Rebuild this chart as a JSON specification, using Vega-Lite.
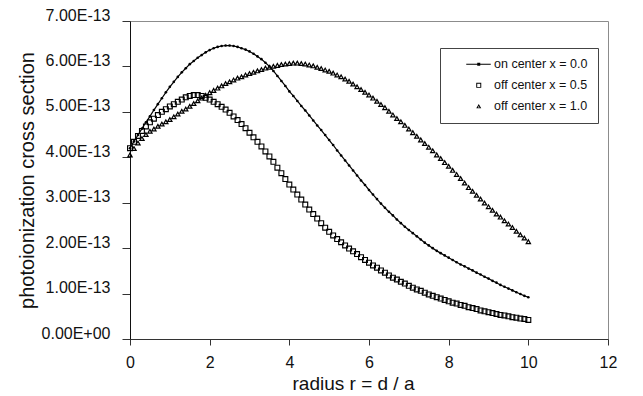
{
"$schema":"https://vega.github.io/schema/vega-lite/v6.json",
"width":478,"height":318,
"autosize":{"type":"none"},
"padding":{"left":130,"top":21,"right":35,"bottom":57},
"background":"white",
"config":{"font":"Liberation Sans","view":{"stroke":"#8c8c8c","strokeWidth":1}},
"datasets":{
"on":[{"r":0,"v":4.20e-13},{"r":0.1,"v":4.35e-13},{"r":0.2,"v":4.49e-13},{"r":0.3,"v":4.63e-13},{"r":0.4,"v":4.77e-13},{"r":0.5,"v":4.90e-13},{"r":0.6,"v":5.04e-13},{"r":0.7,"v":5.17e-13},{"r":0.8,"v":5.30e-13},{"r":0.9,"v":5.43e-13},
{"r":1.0,"v":5.55e-13},{"r":1.1,"v":5.66e-13},{"r":1.2,"v":5.77e-13},{"r":1.3,"v":5.87e-13},{"r":1.4,"v":5.96e-13},{"r":1.5,"v":6.05e-13},{"r":1.6,"v":6.12e-13},{"r":1.7,"v":6.19e-13},{"r":1.8,"v":6.25e-13},{"r":1.9,"v":6.31e-13},
{"r":2.0,"v":6.36e-13},{"r":2.1,"v":6.40e-13},{"r":2.2,"v":6.43e-13},{"r":2.3,"v":6.45e-13},{"r":2.4,"v":6.46e-13},{"r":2.5,"v":6.46e-13},{"r":2.6,"v":6.45e-13},{"r":2.7,"v":6.43e-13},{"r":2.8,"v":6.40e-13},{"r":2.9,"v":6.37e-13},
{"r":3.0,"v":6.33e-13},{"r":3.1,"v":6.28e-13},{"r":3.2,"v":6.22e-13},{"r":3.3,"v":6.16e-13},{"r":3.4,"v":6.08e-13},{"r":3.5,"v":6.00e-13},{"r":3.6,"v":5.90e-13},{"r":3.7,"v":5.79e-13},{"r":3.8,"v":5.68e-13},{"r":3.9,"v":5.57e-13},
{"r":4.0,"v":5.45e-13},{"r":4.1,"v":5.35e-13},{"r":4.2,"v":5.24e-13},{"r":4.3,"v":5.13e-13},{"r":4.4,"v":5.03e-13},{"r":4.5,"v":4.92e-13},{"r":4.6,"v":4.81e-13},{"r":4.7,"v":4.70e-13},{"r":4.8,"v":4.60e-13},{"r":4.9,"v":4.49e-13},
{"r":5.0,"v":4.38e-13},{"r":5.1,"v":4.27e-13},{"r":5.2,"v":4.15e-13},{"r":5.3,"v":4.04e-13},{"r":5.4,"v":3.93e-13},{"r":5.5,"v":3.82e-13},{"r":5.6,"v":3.71e-13},{"r":5.7,"v":3.60e-13},{"r":5.8,"v":3.49e-13},{"r":5.9,"v":3.39e-13},
{"r":6.0,"v":3.28e-13},{"r":6.1,"v":3.18e-13},{"r":6.2,"v":3.08e-13},{"r":6.3,"v":2.98e-13},{"r":6.4,"v":2.89e-13},{"r":6.5,"v":2.80e-13},{"r":6.6,"v":2.72e-13},{"r":6.7,"v":2.63e-13},{"r":6.8,"v":2.55e-13},{"r":6.9,"v":2.47e-13},
{"r":7.0,"v":2.40e-13},{"r":7.1,"v":2.33e-13},{"r":7.2,"v":2.26e-13},{"r":7.3,"v":2.19e-13},{"r":7.4,"v":2.12e-13},{"r":7.5,"v":2.06e-13},{"r":7.6,"v":2.00e-13},{"r":7.7,"v":1.94e-13},{"r":7.8,"v":1.89e-13},{"r":7.9,"v":1.84e-13},
{"r":8.0,"v":1.79e-13},{"r":8.1,"v":1.74e-13},{"r":8.2,"v":1.69e-13},{"r":8.3,"v":1.64e-13},{"r":8.4,"v":1.60e-13},{"r":8.5,"v":1.55e-13},{"r":8.6,"v":1.51e-13},{"r":8.7,"v":1.46e-13},{"r":8.8,"v":1.42e-13},{"r":8.9,"v":1.37e-13},
{"r":9.0,"v":1.33e-13},{"r":9.1,"v":1.28e-13},{"r":9.2,"v":1.24e-13},{"r":9.3,"v":1.19e-13},{"r":9.4,"v":1.15e-13},{"r":9.5,"v":1.11e-13},{"r":9.6,"v":1.07e-13},{"r":9.7,"v":1.03e-13},{"r":9.8,"v":0.99e-13},{"r":9.9,"v":0.95e-13},{"r":10.0,"v":0.92e-13}],
"half":[{"r":0,"v":4.20e-13},{"r":0.1,"v":4.34e-13},{"r":0.2,"v":4.47e-13},{"r":0.3,"v":4.58e-13},{"r":0.4,"v":4.68e-13},{"r":0.5,"v":4.77e-13},{"r":0.6,"v":4.85e-13},{"r":0.7,"v":4.93e-13},{"r":0.8,"v":5.00e-13},{"r":0.9,"v":5.06e-13},
{"r":1.0,"v":5.12e-13},{"r":1.1,"v":5.17e-13},{"r":1.2,"v":5.22e-13},{"r":1.3,"v":5.27e-13},{"r":1.4,"v":5.32e-13},{"r":1.5,"v":5.35e-13},{"r":1.6,"v":5.37e-13},{"r":1.7,"v":5.37e-13},{"r":1.8,"v":5.35e-13},{"r":1.9,"v":5.31e-13},
{"r":2.0,"v":5.27e-13},{"r":2.1,"v":5.22e-13},{"r":2.2,"v":5.17e-13},{"r":2.3,"v":5.11e-13},{"r":2.4,"v":5.05e-13},{"r":2.5,"v":4.98e-13},{"r":2.6,"v":4.90e-13},{"r":2.7,"v":4.82e-13},{"r":2.8,"v":4.73e-13},{"r":2.9,"v":4.64e-13},
{"r":3.0,"v":4.54e-13},{"r":3.1,"v":4.44e-13},{"r":3.2,"v":4.34e-13},{"r":3.3,"v":4.24e-13},{"r":3.4,"v":4.13e-13},{"r":3.5,"v":4.02e-13},{"r":3.6,"v":3.90e-13},{"r":3.7,"v":3.77e-13},{"r":3.8,"v":3.65e-13},{"r":3.9,"v":3.52e-13},
{"r":4.0,"v":3.40e-13},{"r":4.1,"v":3.29e-13},{"r":4.2,"v":3.18e-13},{"r":4.3,"v":3.07e-13},{"r":4.4,"v":2.96e-13},{"r":4.5,"v":2.85e-13},{"r":4.6,"v":2.75e-13},{"r":4.7,"v":2.65e-13},{"r":4.8,"v":2.55e-13},{"r":4.9,"v":2.45e-13},
{"r":5.0,"v":2.36e-13},{"r":5.1,"v":2.28e-13},{"r":5.2,"v":2.20e-13},{"r":5.3,"v":2.13e-13},{"r":5.4,"v":2.06e-13},{"r":5.5,"v":1.99e-13},{"r":5.6,"v":1.93e-13},{"r":5.7,"v":1.87e-13},{"r":5.8,"v":1.80e-13},{"r":5.9,"v":1.74e-13},
{"r":6.0,"v":1.68e-13},{"r":6.1,"v":1.62e-13},{"r":6.2,"v":1.57e-13},{"r":6.3,"v":1.51e-13},{"r":6.4,"v":1.46e-13},{"r":6.5,"v":1.40e-13},{"r":6.6,"v":1.35e-13},{"r":6.7,"v":1.31e-13},{"r":6.8,"v":1.26e-13},{"r":6.9,"v":1.22e-13},
{"r":7.0,"v":1.17e-13},{"r":7.1,"v":1.13e-13},{"r":7.2,"v":1.09e-13},{"r":7.3,"v":1.06e-13},{"r":7.4,"v":1.02e-13},{"r":7.5,"v":0.98e-13},{"r":7.6,"v":0.95e-13},{"r":7.7,"v":0.92e-13},{"r":7.8,"v":0.89e-13},{"r":7.9,"v":0.86e-13},
{"r":8.0,"v":0.83e-13},{"r":8.1,"v":0.80e-13},{"r":8.2,"v":0.78e-13},{"r":8.3,"v":0.75e-13},{"r":8.4,"v":0.73e-13},{"r":8.5,"v":0.70e-13},{"r":8.6,"v":0.68e-13},{"r":8.7,"v":0.66e-13},{"r":8.8,"v":0.63e-13},{"r":8.9,"v":0.61e-13},
{"r":9.0,"v":0.59e-13},{"r":9.1,"v":0.57e-13},{"r":9.2,"v":0.55e-13},{"r":9.3,"v":0.53e-13},{"r":9.4,"v":0.52e-13},{"r":9.5,"v":0.50e-13},{"r":9.6,"v":0.48e-13},{"r":9.7,"v":0.47e-13},{"r":9.8,"v":0.45e-13},{"r":9.9,"v":0.44e-13},{"r":10.0,"v":0.42e-13}],
"one":[{"r":0,"v":4.05e-13},{"r":0.1,"v":4.19e-13},{"r":0.2,"v":4.31e-13},{"r":0.3,"v":4.41e-13},{"r":0.4,"v":4.50e-13},{"r":0.5,"v":4.57e-13},{"r":0.6,"v":4.62e-13},{"r":0.7,"v":4.68e-13},{"r":0.8,"v":4.73e-13},{"r":0.9,"v":4.78e-13},
{"r":1.0,"v":4.83e-13},{"r":1.1,"v":4.89e-13},{"r":1.2,"v":4.95e-13},{"r":1.3,"v":5.01e-13},{"r":1.4,"v":5.06e-13},{"r":1.5,"v":5.12e-13},{"r":1.6,"v":5.18e-13},{"r":1.7,"v":5.24e-13},{"r":1.8,"v":5.30e-13},{"r":1.9,"v":5.36e-13},
{"r":2.0,"v":5.42e-13},{"r":2.1,"v":5.47e-13},{"r":2.2,"v":5.52e-13},{"r":2.3,"v":5.57e-13},{"r":2.4,"v":5.62e-13},{"r":2.5,"v":5.66e-13},{"r":2.6,"v":5.70e-13},{"r":2.7,"v":5.74e-13},{"r":2.8,"v":5.77e-13},{"r":2.9,"v":5.81e-13},
{"r":3.0,"v":5.84e-13},{"r":3.1,"v":5.87e-13},{"r":3.2,"v":5.90e-13},{"r":3.3,"v":5.93e-13},{"r":3.4,"v":5.96e-13},{"r":3.5,"v":5.98e-13},{"r":3.6,"v":6.00e-13},{"r":3.7,"v":6.02e-13},{"r":3.8,"v":6.04e-13},{"r":3.9,"v":6.05e-13},
{"r":4.0,"v":6.06e-13},{"r":4.1,"v":6.07e-13},{"r":4.2,"v":6.07e-13},{"r":4.3,"v":6.06e-13},{"r":4.4,"v":6.05e-13},{"r":4.5,"v":6.03e-13},{"r":4.6,"v":6.01e-13},{"r":4.7,"v":5.98e-13},{"r":4.8,"v":5.95e-13},{"r":4.9,"v":5.92e-13},
{"r":5.0,"v":5.89e-13},{"r":5.1,"v":5.85e-13},{"r":5.2,"v":5.81e-13},{"r":5.3,"v":5.77e-13},{"r":5.4,"v":5.72e-13},{"r":5.5,"v":5.67e-13},{"r":5.6,"v":5.61e-13},{"r":5.7,"v":5.55e-13},{"r":5.8,"v":5.49e-13},{"r":5.9,"v":5.43e-13},
{"r":6.0,"v":5.37e-13},{"r":6.1,"v":5.30e-13},{"r":6.2,"v":5.23e-13},{"r":6.3,"v":5.16e-13},{"r":6.4,"v":5.09e-13},{"r":6.5,"v":5.01e-13},{"r":6.6,"v":4.93e-13},{"r":6.7,"v":4.85e-13},{"r":6.8,"v":4.78e-13},{"r":6.9,"v":4.70e-13},
{"r":7.0,"v":4.62e-13},{"r":7.1,"v":4.54e-13},{"r":7.2,"v":4.46e-13},{"r":7.3,"v":4.38e-13},{"r":7.4,"v":4.30e-13},{"r":7.5,"v":4.22e-13},{"r":7.6,"v":4.14e-13},{"r":7.7,"v":4.05e-13},{"r":7.8,"v":3.97e-13},{"r":7.9,"v":3.88e-13},
{"r":8.0,"v":3.80e-13},{"r":8.1,"v":3.71e-13},{"r":8.2,"v":3.62e-13},{"r":8.3,"v":3.53e-13},{"r":8.4,"v":3.43e-13},{"r":8.5,"v":3.33e-13},{"r":8.6,"v":3.25e-13},{"r":8.7,"v":3.16e-13},{"r":8.8,"v":3.08e-13},{"r":8.9,"v":2.99e-13},
{"r":9.0,"v":2.91e-13},{"r":9.1,"v":2.83e-13},{"r":9.2,"v":2.75e-13},{"r":9.3,"v":2.68e-13},{"r":9.4,"v":2.60e-13},{"r":9.5,"v":2.53e-13},{"r":9.6,"v":2.45e-13},{"r":9.7,"v":2.37e-13},{"r":9.8,"v":2.29e-13},{"r":9.9,"v":2.22e-13},{"r":10.0,"v":2.14e-13}]
},
"encoding":{
"x":{"field":"r","type":"quantitative","scale":{"domain":[0,12],"nice":false,"zero":false},
 "axis":{"values":[0,2,4,6,8,10,12],"title":"radius  r = d / a","grid":false,"domainColor":"#333","tickColor":"#333","tickSize":6,"labelFontSize":16,"labelColor":"#111","labelPadding":9,"labelFont":"Liberation Sans","labelFlush":false,"labelOverlap":false,"titleFont":"Liberation Sans","titleFontSize":19,"titleFontWeight":"normal","titleColor":"#111","titlePadding":4,"titleX":223}},
"y":{"field":"v","type":"quantitative","scale":{"domain":[0,7e-13],"nice":false},
 "axis":{"values":[0,1e-13,2e-13,3e-13,4e-13,5e-13,6e-13,7e-13],"labelExpr":"datum.value == 0 ? '0.00E+00' : format(datum.value*1e13,'.2f') + 'E-13'","title":"photoionization cross section","grid":false,"domainColor":"#111","tickColor":"#333","tickSize":8,"labelFontSize":16,"labelColor":"#111","labelPadding":12,"labelOffset":-6,"labelFont":"Liberation Sans","labelFlush":false,"labelOverlap":false,"titleFont":"Liberation Sans","titleFontSize":20,"titleFontWeight":"normal","titleColor":"#111","titlePadding":4}}
},
"layer":[
{"data":{"name":"on"},"mark":{"type":"line","color":"black","strokeWidth":1.2}},
{"data":{"name":"on"},"mark":{"type":"point","filled":true,"color":"black","size":7,"opacity":1,"shape":"circle"}},
{"data":{"name":"half"},"mark":{"type":"point","filled":true,"color":"black","size":36,"opacity":1},
 "encoding":{"shape":{"datum":"off center x = 0.5","type":"nominal",
  "scale":{"domain":["on center x = 0.0","off center x = 0.5","off center x = 1.0"],"range":[
   "M-5,-0.2L4.8,-0.2L4.8,0.2L-5,0.2ZM-0.6,-0.6L0.6,-0.6L0.6,0.6L-0.6,0.6Z",
   "M-1,-1L1,-1L1,1L-1,1ZM-0.62,-0.62L-0.62,0.62L0.62,0.62L0.62,-0.62Z",
   "M0,-1L1,0.75L-1,0.75ZM0,-0.22L-0.34,0.37L0.34,0.37Z"]},
  "legend":{"title":null,"orient":"none","legendX":310,"legendY":27,"strokeColor":"#444","fillColor":"white","padding":10,
   "symbolSize":25,"symbolOffset":22.5,"labelOffset":9,"rowPadding":8.1,"labelFont":"Liberation Sans","labelFontSize":12.5,"labelColor":"#111","labelLimit":300,
   "labelExpr":"datum.label + '        '"}}}},
{"data":{"name":"one"},"mark":{"type":"point","filled":true,"color":"black","size":40,"opacity":1},
 "encoding":{"shape":{"datum":"off center x = 1.0","type":"nominal"}}}
]
}
